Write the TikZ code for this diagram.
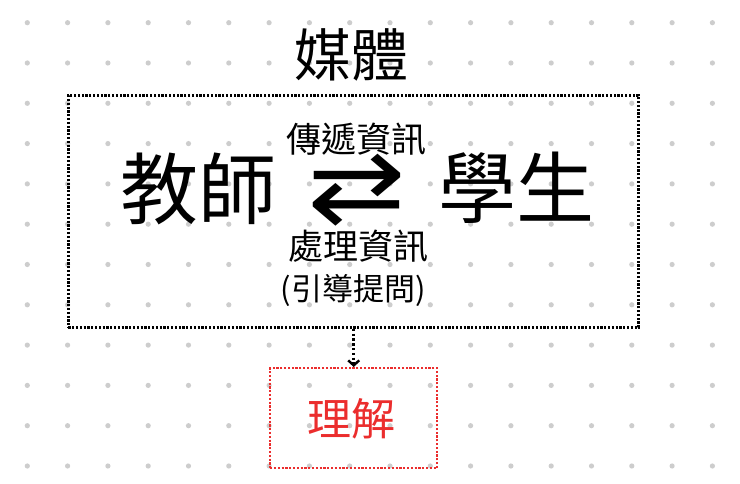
\documentclass[tikz,border=0pt]{standalone}
\usepackage{fontspec}
\newfontfamily\cjk{Noto Sans CJK TC}
\newfontfamily\sym{DejaVu Sans}
\usetikzlibrary{arrows.meta}
\definecolor{dotgray}{RGB}{205,205,205}
\definecolor{myred}{RGB}{235,45,45}
\tikzset{
  dotbox/.style={draw=black, line width=2.8pt, dash pattern=on 2.2pt off 1.6pt},
  redbox/.style={draw=myred, line width=2.4pt, dash pattern=on 2.2pt off 1.6pt},
  lbl/.style={inner sep=0pt, font=\cjk},
}
\begin{document}
\begin{tikzpicture}[x=1pt,y=-1pt]
\useasboundingbox (0,0) rectangle (740,484);
\fill[white] (0,0) rectangle (740,484);
\foreach \i in {0,...,17}{
  \foreach \j in {0,...,11}{
    \fill[dotgray] ({27.3+40.3*\i},{22.7+40.3*\j}) circle (2.6pt);
  }
}
\node[dotbox, minimum width=570pt, minimum height=232pt, anchor=north west] (media) at (67,94) {};
\node[lbl, font=\cjk\fontsize{57}{60}\selectfont] (title) at (351,55) {媒體};
\node[lbl, font=\cjk\fontsize{78}{80}\selectfont] (teacher) at (198,189) {教師};
\node[lbl, font=\cjk\fontsize{78}{80}\selectfont] (student) at (516,188) {學生};
\node[lbl, font=\cjk\fontsize{35}{38}\selectfont] (pass) at (356,139) {傳遞資訊};
\node[lbl, font=\cjk\fontsize{35}{38}\selectfont] (proc) at (358,246) {處理資訊};
\node[lbl, font=\cjk\fontsize{31}{34}\selectfont] (guide) at (353,290) {(引導提問)};
\node[lbl, font=\sym\fontsize{100}{100}\selectfont, xscale=1.18] (arr) at (357,190) {⇄};
\node[redbox, minimum width=167pt, minimum height=100pt, anchor=north west] (und) at (269,367) {};
\node[lbl, font=\cjk\fontsize{44}{46}\selectfont, text=myred] (undt) at (351,419) {理解};
\draw[line width=2.8pt, dash pattern=on 2.4pt off 2.4pt, -{Straight Barb[length=5pt,width=11pt,line width=2.4pt]}] (media.south -| und.north) -- (und.north);
\end{tikzpicture}
\end{document}
